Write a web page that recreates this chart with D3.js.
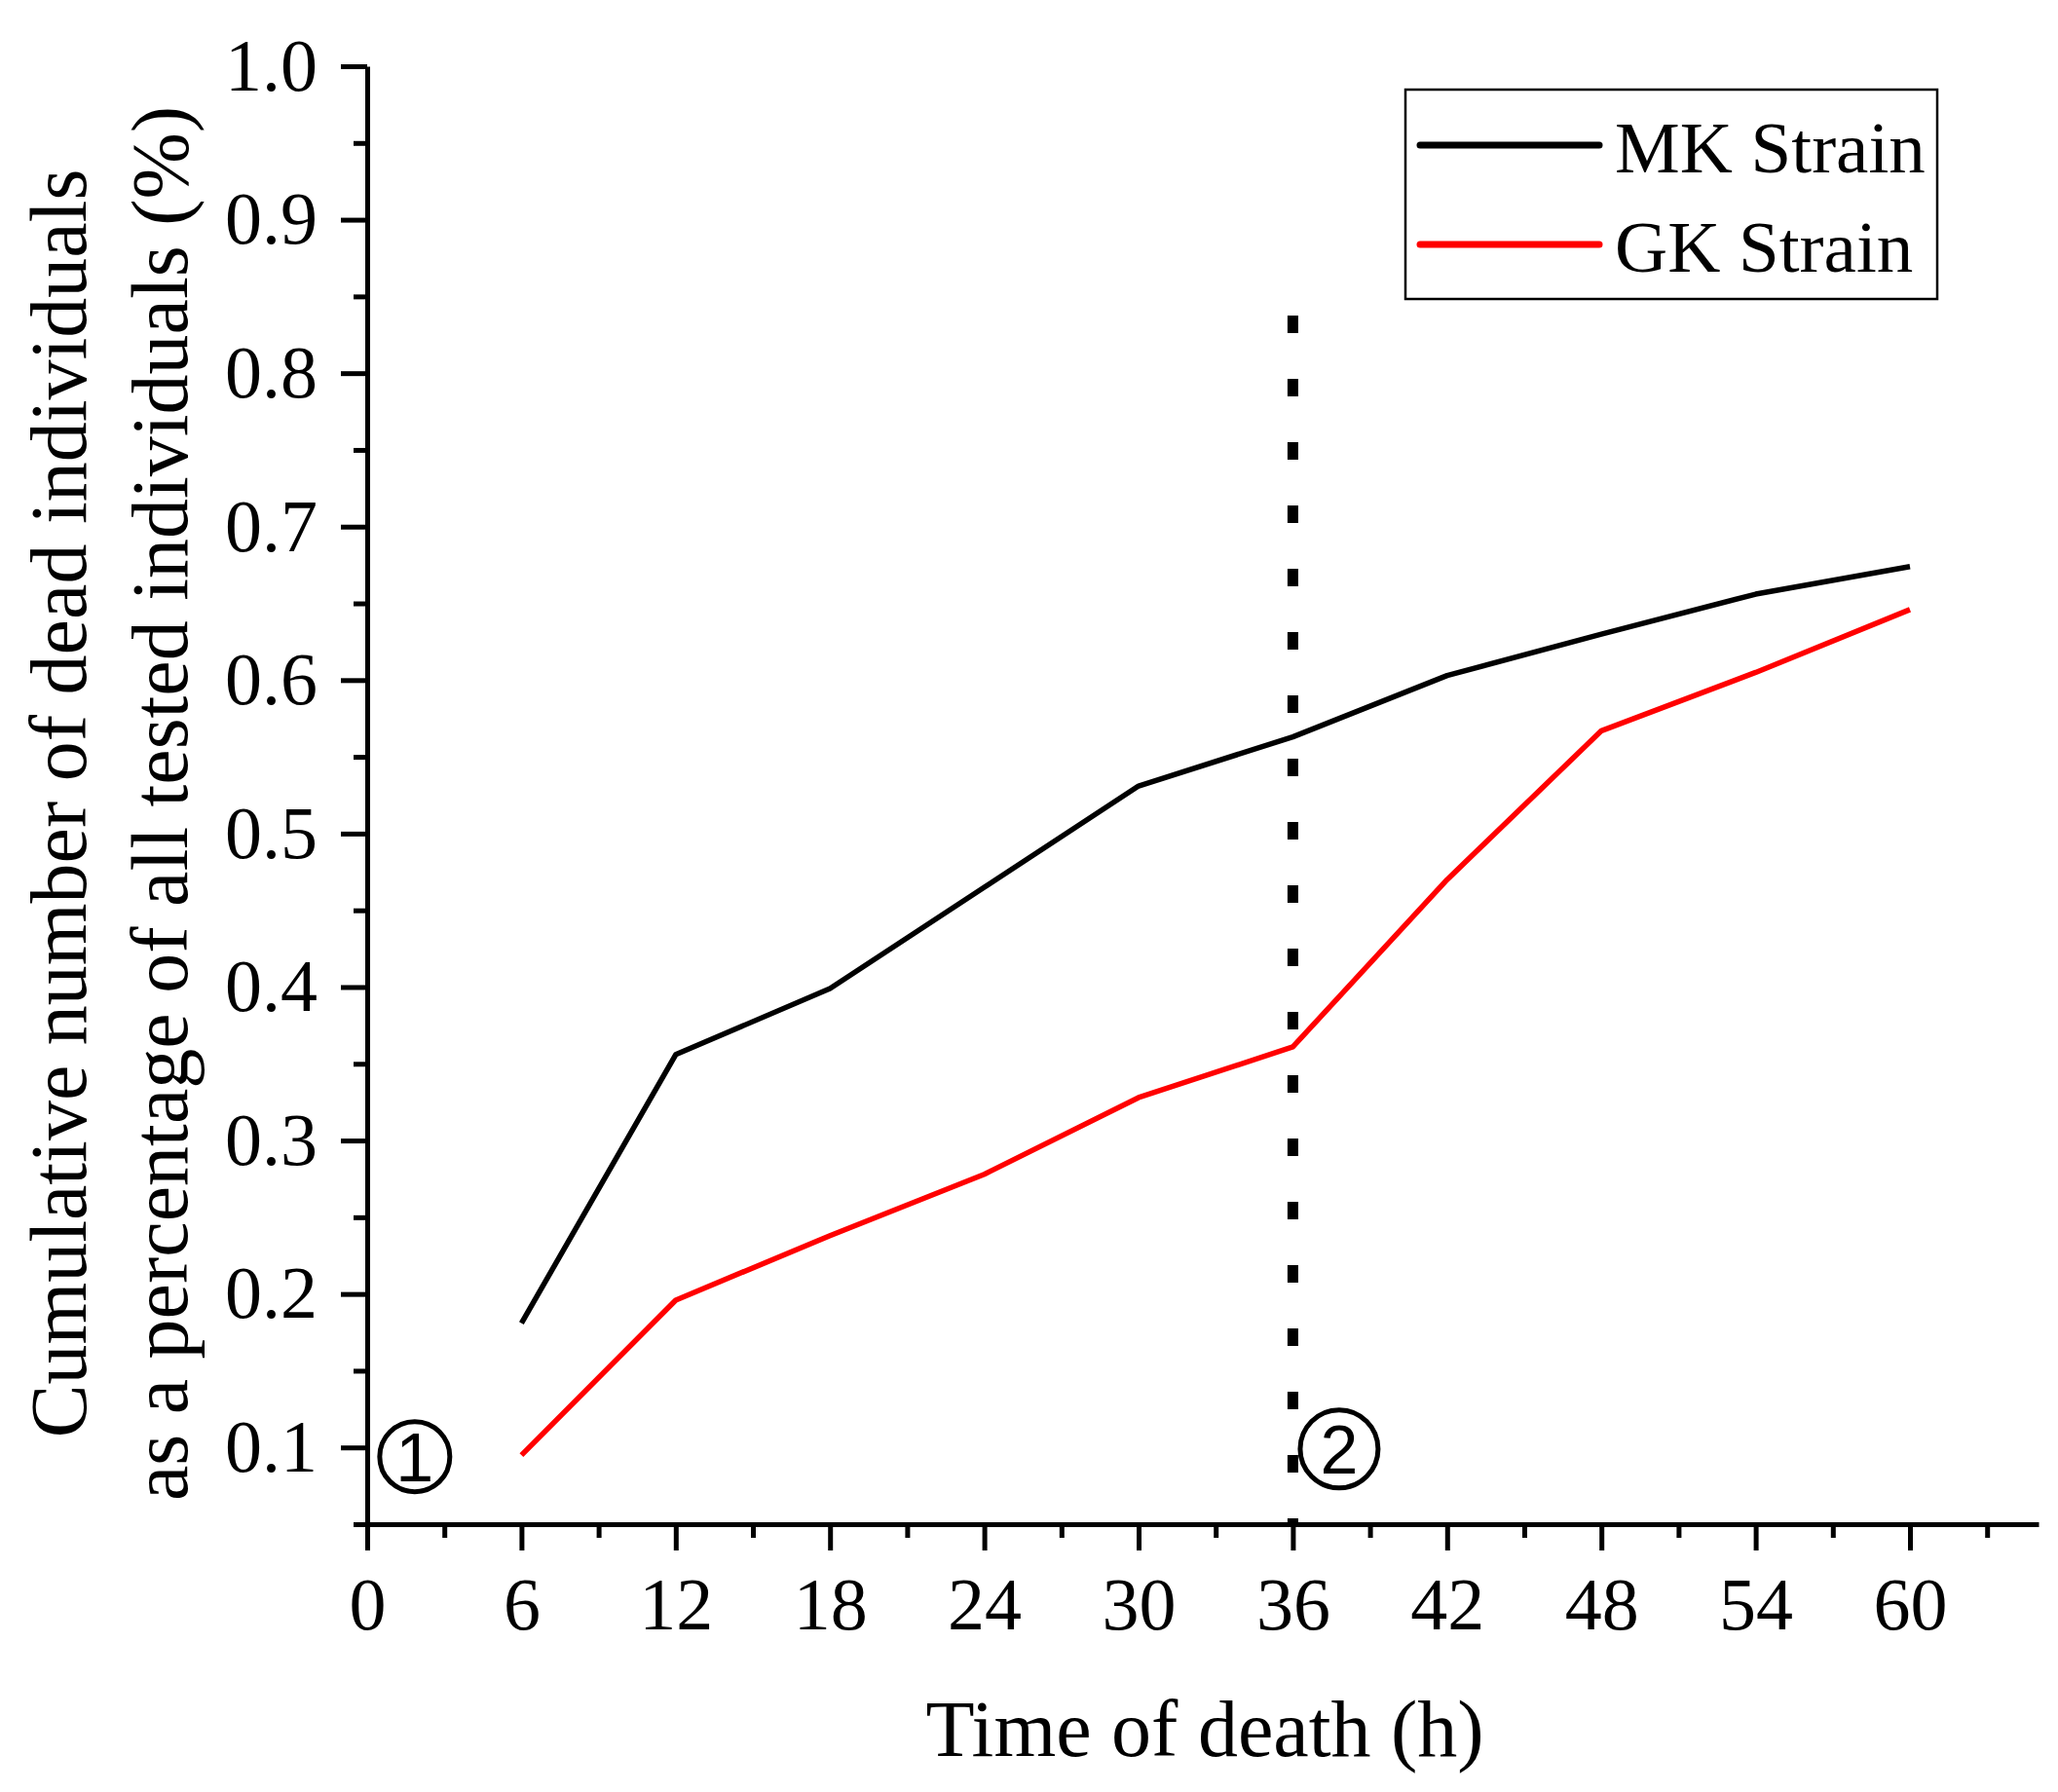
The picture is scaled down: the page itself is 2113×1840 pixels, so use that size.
<!DOCTYPE html>
<html>
<head>
<meta charset="utf-8">
<script src="https://cdn.jsdelivr.net/npm/d3@7"></script>
<style>
  body { margin:0; background:#fff; }
  svg text { font-family: "Liberation Serif", "Times New Roman", serif; fill:#000; }
</style>
</head>
<body>
<div id="chart"></div>
<script>
// chart data
const hours = [6, 12, 18, 24, 30, 36, 42, 48, 54, 60];
const mkStrain = [0.181, 0.356, 0.399, 0.465, 0.531, 0.563, 0.603, 0.630, 0.656, 0.674];
const gkStrain = [0.095, 0.196, 0.238, 0.278, 0.328, 0.361, 0.470, 0.567, 0.605, 0.646];
const seriesNames = ['MK Strain', 'GK Strain'];
const xTicks = [0, 6, 12, 18, 24, 30, 36, 42, 48, 54, 60];
const yTicks = [0.1, 0.2, 0.3, 0.4, 0.5, 0.6, 0.7, 0.8, 0.9, 1.0];
const markHour = 36;          // dotted divider
const markTop = 0.8375;
const notes = [{label:'1', x:1.85, y:0.094, r:36}, {label:'2', x:37.8, y:0.099, r:40}];

const W = 2113, H = 1840;
const svg = d3.select('#chart').append('svg').attr('width', W).attr('height', H);

const x = d3.scaleLinear().domain([0, 65]).range([377, 2093]);
const y = d3.scaleLinear().domain([0.05, 1.0]).range([1565, 68]);

// minor ticks first, majors on top
const xMinor = d3.range(3, 65, 6);
const yMinor = d3.range(0.05, 1.0, 0.1);

svg.append('g').attr('transform', `translate(0,${y(0.05)})`)
  .call(d3.axisBottom(x).tickValues(xMinor).tickSize(14).tickSizeOuter(0).tickFormat(''))
  .call(g => g.select('.domain').remove())
  .selectAll('line').attr('stroke', '#000').attr('stroke-width', 5);

svg.append('g').attr('transform', `translate(${x(0)},0)`)
  .call(d3.axisLeft(y).tickValues(yMinor).tickSize(14).tickSizeOuter(0).tickFormat(''))
  .call(g => g.select('.domain').remove())
  .selectAll('line').attr('stroke', '#000').attr('stroke-width', 5);

const gx = svg.append('g').attr('transform', `translate(0,${y(0.05)})`)
  .call(d3.axisBottom(x).tickValues(xTicks).tickSize(27).tickSizeOuter(0).tickPadding(27).tickFormat(d3.format('d')));
gx.select('.domain').attr('stroke', '#000').attr('stroke-width', 5);
gx.selectAll('.tick line').attr('stroke', '#000').attr('stroke-width', 5);
gx.selectAll('.tick text').attr('font-size', 76).attr('font-family', '"Liberation Serif", serif');

const gy = svg.append('g').attr('transform', `translate(${x(0)},0)`)
  .call(d3.axisLeft(y).tickValues(yTicks).tickSize(27).tickSizeOuter(0).tickPadding(24).tickFormat(d3.format('.1f')));
gy.select('.domain').attr('stroke', '#000').attr('stroke-width', 5);
gy.selectAll('.tick line').attr('stroke', '#000').attr('stroke-width', 5);
gy.selectAll('.tick text').attr('font-size', 76).attr('font-family', '"Liberation Serif", serif');

// dotted divider at 36 h
svg.append('line')
  .attr('x1', x(markHour)).attr('x2', x(markHour))
  .attr('y1', y(markTop)).attr('y2', y(0.05))
  .attr('stroke', '#000').attr('stroke-width', 11).attr('stroke-dasharray', '18,47');

// series lines
const line = d3.line().x((d, i) => x(hours[i])).y(d => y(d));
svg.append('path').datum(mkStrain).attr('d', line)
  .attr('fill', 'none').attr('stroke', '#000').attr('stroke-width', 5.5).attr('stroke-linejoin', 'round');
svg.append('path').datum(gkStrain).attr('d', line)
  .attr('fill', 'none').attr('stroke', '#ff0000').attr('stroke-width', 5.5).attr('stroke-linejoin', 'round');

// circled numbers
notes.forEach(n => {
  svg.append('circle').attr('cx', x(n.x)).attr('cy', y(n.y)).attr('r', n.r)
    .attr('fill', 'none').attr('stroke', '#000').attr('stroke-width', 5);
  svg.append('text').attr('x', x(n.x)).attr('y', y(n.y)).attr('dy', '0.36em')
    .attr('text-anchor', 'middle').attr('font-size', 70)
    .style('font-family', '"Liberation Sans", Arial, sans-serif').text(n.label);
});

// axis titles
svg.append('text').attr('x', 1237).attr('y', 1803).attr('text-anchor', 'middle')
  .attr('font-size', 82).text('Time of death (h)');

const yTitle = svg.append('text').attr('transform', 'translate(0,825) rotate(-90)')
  .attr('text-anchor', 'middle').attr('font-size', 82);
yTitle.append('tspan').attr('x', 0).attr('y', 88).text('Cumulative number of dead individuals');
yTitle.append('tspan').attr('x', 0).attr('y', 192).text('as a percentage of all tested individuals (%)');

// legend
const lg = svg.append('g');
lg.append('rect').attr('x', 1443).attr('y', 92).attr('width', 546).attr('height', 215)
  .attr('fill', '#fff').attr('stroke', '#000').attr('stroke-width', 2.5);
const colors = ['#000', '#ff0000'];
seriesNames.forEach((name, i) => {
  const cy = 149 + i * 102;
  lg.append('line').attr('x1', 1458).attr('x2', 1642).attr('y1', cy).attr('y2', cy)
    .attr('stroke', colors[i]).attr('stroke-width', 7).attr('stroke-linecap', 'round');
  lg.append('text').attr('x', 1658).attr('y', cy + 28).attr('font-size', 75).text(name);
});
</script>
</body>
</html>
